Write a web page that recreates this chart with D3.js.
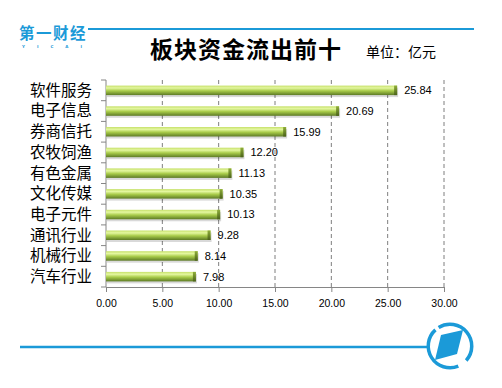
<!DOCTYPE html>
<html>
<head>
<meta charset="utf-8">
<script src="https://cdn.jsdelivr.net/npm/d3@7"></script>
<style>
  body { margin: 0; background: #fff; }
  svg { display: block; }
</style>
</head>
<body>
<div id="chart"></div>
<script>
const SVG_WIDTH = 502;
const SVG_HEIGHT = 388;
const MARGIN = { TOP: 80, LEFT: 106, RIGHT: 58, BOTTOM: 101 };

// 数据
const categories = ["软件服务", "电子信息", "券商信托", "农牧饲渔", "有色金属",
  "文化传媒", "电子元件", "通讯行业", "机械行业", "汽车行业"];
const values = [25.84, 20.69, 15.99, 12.20, 11.13, 10.35, 10.13, 9.28, 8.14, 7.98];
const xTicks = [0, 5, 10, 15, 20, 25, 30];

const W = SVG_WIDTH - MARGIN.LEFT - MARGIN.RIGHT;
const H = SVG_HEIGHT - MARGIN.TOP - MARGIN.BOTTOM;

const svg = d3.select("#chart").append("svg")
  .attr("width", SVG_WIDTH)
  .attr("height", SVG_HEIGHT);

const defs = svg.append("defs");
const grad = defs.append("linearGradient")
  .attr("id", "barGrad").attr("x1", 0).attr("y1", 0).attr("x2", 0).attr("y2", 1);
grad.append("stop").attr("offset", "0%").attr("stop-color", "#c6e06a");
grad.append("stop").attr("offset", "25%").attr("stop-color", "#e4f7a0");
grad.append("stop").attr("offset", "55%").attr("stop-color", "#a9cc4a");
grad.append("stop").attr("offset", "100%").attr("stop-color", "#5d7a25");

const capGrad = defs.append("linearGradient")
  .attr("id", "capGrad").attr("x1", 0).attr("y1", 0).attr("x2", 0).attr("y2", 1);
capGrad.append("stop").attr("offset", "0%").attr("stop-color", "#8fae3a");
capGrad.append("stop").attr("offset", "100%").attr("stop-color", "#4a6119");

// 页眉
const blue = "#1b9ad8";
svg.append("line")
  .attr("x1", 88).attr("x2", 474).attr("y1", 29).attr("y2", 29)
  .attr("stroke", blue).attr("stroke-width", 2);

svg.append("text")
  .attr("x", 19).attr("y", 39)
  .attr("font-family", "Noto Sans CJK SC")
  .attr("font-size", 15.5).attr("font-weight", "bold")
  .attr("fill", blue)
  .attr("letter-spacing", 1.5)
  .text("第一财经");
svg.append("text")
  .attr("x", 22).attr("y", 47.5)
  .attr("font-family", "DejaVu Sans")
  .attr("font-size", 4).attr("font-weight", "bold")
  .attr("fill", blue)
  .attr("letter-spacing", 12)
  .text("YICAI");

svg.append("text")
  .attr("x", 150).attr("y", 58)
  .attr("font-family", "Noto Sans CJK SC")
  .attr("font-size", 23).attr("font-weight", "bold")
  .attr("fill", "#000")
  .attr("letter-spacing", 1)
  .text("板块资金流出前十");

svg.append("text")
  .attr("x", 366).attr("y", 57)
  .attr("font-family", "Noto Sans CJK SC")
  .attr("font-size", 14)
  .attr("fill", "#000")
  .text("单位：亿元");

// 比例尺
const xScale = d3.scaleLinear().domain([0, 30]).range([0, W]);
const yScale = d3.scaleBand().domain(categories).range([0, H]);

const g = svg.append("g")
  .attr("transform", `translate(${MARGIN.LEFT},${MARGIN.TOP})`);

// 网格线
g.selectAll(".grid")
  .data(xTicks.slice(1))
  .enter().append("line")
  .attr("x1", d => xScale(d)).attr("x2", d => xScale(d))
  .attr("y1", 0).attr("y2", H)
  .attr("stroke", "#7f7f7f").attr("stroke-dasharray", "4,3");

// x 轴
const axisBottom = d3.axisBottom(xScale)
  .tickValues(xTicks)
  .tickFormat(d3.format(".2f"))
  .tickSize(5).tickSizeOuter(0).tickPadding(8);
const gx = g.append("g")
  .attr("transform", `translate(0,${H})`)
  .call(axisBottom);
gx.select(".domain").attr("stroke", "#868686");
gx.selectAll(".tick line").attr("stroke", "#868686");
gx.selectAll("text")
  .attr("font-family", "Liberation Sans, Arial")
  .attr("font-size", 10.5).attr("fill", "#000");

// y 轴
const gy = g.append("g");
gy.append("line")
  .attr("x1", 0).attr("x2", 0).attr("y1", 0).attr("y2", H)
  .attr("stroke", "#868686");
gy.selectAll(".ytick")
  .data(d3.range(categories.length + 1))
  .enter().append("line")
  .attr("x1", -5).attr("x2", 0)
  .attr("y1", i => i < categories.length ? yScale(categories[i]) : H)
  .attr("y2", i => i < categories.length ? yScale(categories[i]) : H)
  .attr("stroke", "#868686");
gy.selectAll(".ylab")
  .data(categories)
  .enter().append("text")
  .attr("x", -14)
  .attr("y", d => yScale(d) + yScale.bandwidth() / 2)
  .attr("dy", "0.35em")
  .attr("text-anchor", "end")
  .attr("font-family", "Noto Sans CJK SC")
  .attr("font-size", 15.5)
  .attr("fill", "#000")
  .text(d => d);

// 柱
const barH = 9.5;
const bars = g.selectAll(".bar")
  .data(values)
  .enter().append("g");

bars.append("rect")   // 阴影
  .attr("x", 1)
  .attr("y", (d, i) => yScale(categories[i]) + (yScale.bandwidth() - barH) / 2 + 2)
  .attr("width", d => xScale(d))
  .attr("height", barH)
  .attr("fill", "#000").attr("opacity", 0.15);

bars.append("rect")
  .attr("x", 0)
  .attr("y", (d, i) => yScale(categories[i]) + (yScale.bandwidth() - barH) / 2)
  .attr("width", d => xScale(d))
  .attr("height", barH)
  .attr("fill", "url(#barGrad)");

bars.append("rect")   // 端面
  .attr("x", d => xScale(d) - 3)
  .attr("y", (d, i) => yScale(categories[i]) + (yScale.bandwidth() - barH) / 2)
  .attr("width", 3)
  .attr("height", barH)
  .attr("fill", "url(#capGrad)");

bars.append("text")
  .attr("x", d => xScale(d) + 7)
  .attr("y", (d, i) => yScale(categories[i]) + yScale.bandwidth() / 2)
  .attr("dy", "0.35em")
  .attr("font-family", "Liberation Sans, Arial")
  .attr("font-size", 11)
  .attr("fill", "#000")
  .text(d => d3.format(".2f")(d));

// 页脚
svg.append("line")
  .attr("x1", 20).attr("x2", 427).attr("y1", 347).attr("y2", 347)
  .attr("stroke", blue).attr("stroke-width", 2.5);

const logo = svg.append("g").attr("transform", "translate(450,346)");
const arc = d3.arc().innerRadius(20).outerRadius(23.5);
logo.append("path")
  .attr("d", arc({ startAngle: -0.55, endAngle: 2.3 }))
  .attr("fill", blue);
logo.append("path")
  .attr("d", arc({ startAngle: 2.75, endAngle: 5.55 }))
  .attr("fill", blue);
logo.append("path")
  .attr("d", "M-9,-11 L13,-16 L7,8 L-15,14 Z")
  .attr("fill", blue);
</script>
</body>
</html>
